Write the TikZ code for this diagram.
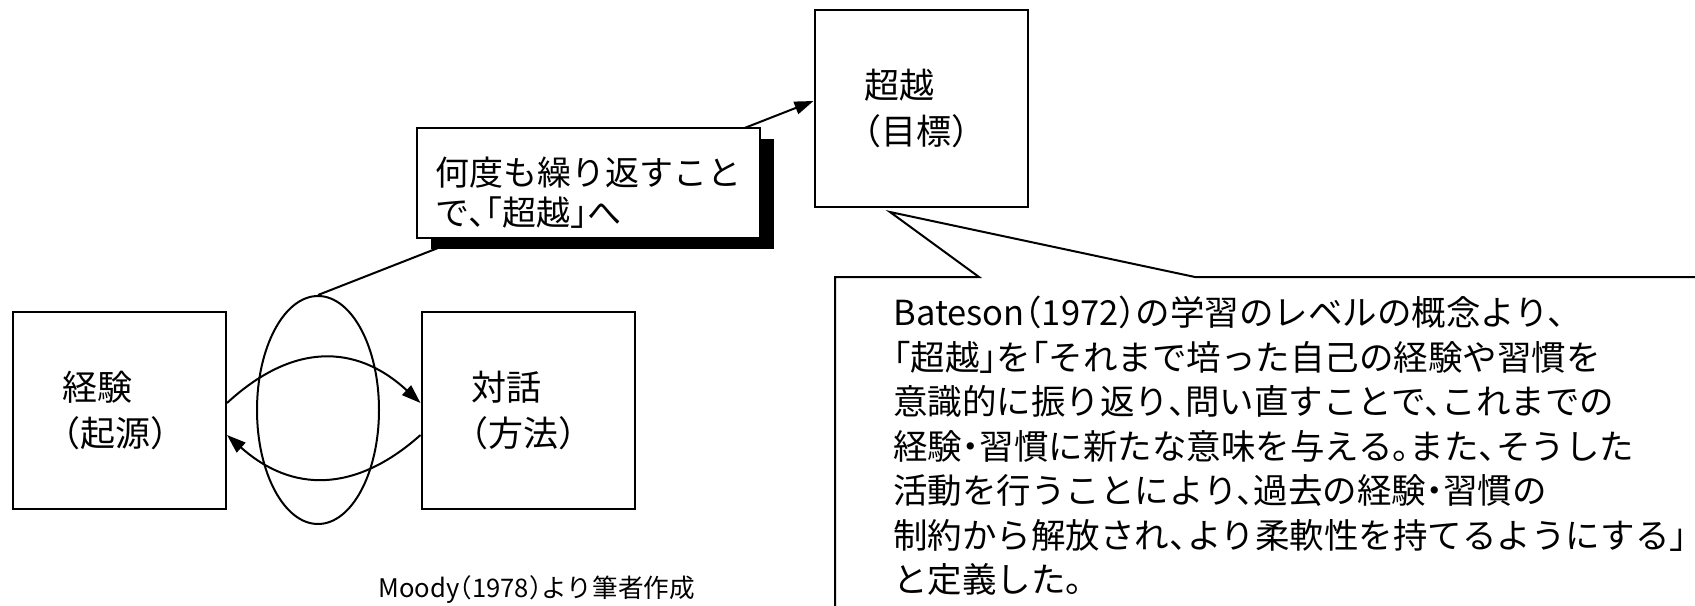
\documentclass[tikz,border=0pt]{standalone}
\usepackage{fontspec}
\setmainfont{Noto Sans CJK JP}[RawFeature=+halt]
\usetikzlibrary{shapes.geometric,arrows.meta,shadows}
\begin{document}
\begin{tikzpicture}[x=0.5pt,y=-0.5pt,
  every node/.style={inner sep=0pt},
  box/.style={draw, line width=1pt, rectangle, minimum width=106.5pt, minimum height=98.5pt,
    text width=57pt, inner xsep=24.75pt, align=left, font=\fontsize{17.5pt}{23pt}\selectfont},
  ell/.style={draw, ellipse, line width=1pt, minimum width=61pt, minimum height=114pt},
  arr/.style={line width=1pt, -{Triangle[length=9.5pt,width=6.5pt]}},
  cbox/.style={draw, fill=white, line width=1pt, minimum width=171.5pt, minimum height=55pt,
    align=left, font=\fontsize{17pt}{20pt}\selectfont,
    general shadow={fill=black, shadow xshift=7pt, shadow yshift=-5.5pt}},
  btext/.style={align=left, font=\fontsize{17.25pt}{22.25pt}\selectfont},
  srctext/.style={font=\fontsize{12.8pt}{15pt}\selectfont}
]
\useasboundingbox (0,0) rectangle (1695,605);
\clip (0,0) rectangle (1695,605);
\node[box] (exp) at (119.5,410.5) {経験\\（起源）};
\node[box] (dia) at (528,410.5) {対話\\（方法）};
\node[box] (goal) at (921,108.5) {超越\\（目標）};
\node[ell] (cyc) at (318,410) {};
\draw[arr] ([yshift=3.75pt]exp.east) .. controls +(65,-60) and +(-65,-60) .. ([yshift=3.75pt]dia.west);
\draw[arr] ([yshift=-12.25pt]dia.west) .. controls +(-65,58) and +(65,58) .. ([yshift=-12.25pt]exp.east);
\draw[arr] (cyc.north) -- ([yshift=3.75pt]goal.west);
\node[cbox] (rep) at (588.5,183) {\rule{0pt}{24pt}何度も繰り返すこと\\で、「超越」へ};
\coordinate (tip) at ([xshift=-15.5pt,yshift=-2pt]goal.south);
\draw[line width=1pt, fill=white] (835,277) -- (979,277) -- (tip) -- (1195,277) -- (1720,277) -- (1720,640) -- (835,640) -- cycle;
\node[btext, anchor=west] (bat) at (893,446) {Bateson（1972）の学習のレベルの概念より、\\「超越」を「それまで培った自己の経験や習慣を\\意識的に振り返り、問い直すことで、これまでの\\経験・習慣に新たな意味を与える。また、そうした\\活動を行うことにより、過去の経験・習慣の\\制約から解放され、より柔軟性を持てるようにする」\\と定義した。};
\node[srctext, anchor=west] (src) at (378,590) {Moody（1978）より筆者作成};
\end{tikzpicture}
\end{document}
